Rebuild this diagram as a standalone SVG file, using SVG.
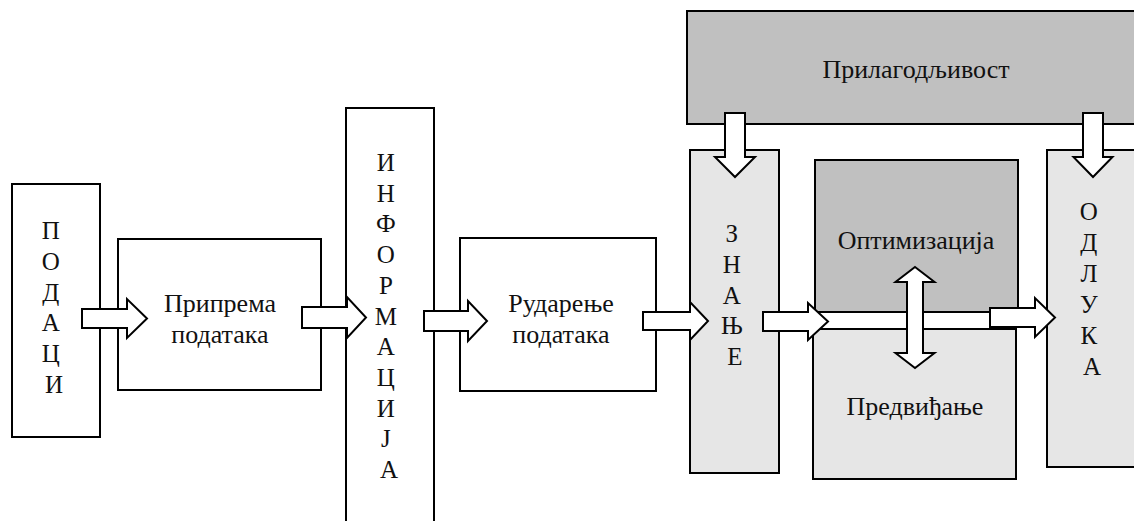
<svg xmlns="http://www.w3.org/2000/svg" width="1134" height="521" viewBox="0 0 1134 521">
  <style>
    .box { stroke: #000; stroke-width: 2; }
    .white { fill: #fff; }
    .dark { fill: #c0c0c0; }
    .light { fill: #e6e6e6; }
    .arrow { fill: #fff; stroke: #000; stroke-width: 2; stroke-linejoin: miter; }
    .lbl { font-size: 26px; fill: #111; text-anchor: middle; }
    .vert { font-size: 25px; fill: #111; text-anchor: middle; }
  </style>

  <g font-family="'Liberation Serif', 'DejaVu Serif', serif">
  <!-- nodes -->
  <g id="podaci">
    <rect class="box white" x="12" y="184" width="88" height="253"/>
    <text class="vert">
      <tspan x="54" y="239">П</tspan>
      <tspan x="54" dy="30.8">О</tspan>
      <tspan x="54" dy="30.8">Д</tspan>
      <tspan x="54" dy="30.8">А</tspan>
      <tspan x="54" dy="30.8">Ц</tspan>
      <tspan x="54" dy="30.8">И</tspan>
    </text>
  </g>

  <g id="priprema">
    <rect class="box white" x="118" y="239" width="203" height="151"/>
    <text class="lbl" x="220" y="312">Припрема</text>
    <text class="lbl" x="220" y="343">података</text>
  </g>

  <g id="informacija">
    <rect class="box white" x="346" y="108" width="88" height="430"/>
    <text class="vert">
      <tspan x="389" y="171">И</tspan>
      <tspan x="389" dy="30.7">Н</tspan>
      <tspan x="389" dy="30.7">Ф</tspan>
      <tspan x="389" dy="30.7">О</tspan>
      <tspan x="389" dy="30.7">Р</tspan>
      <tspan x="389" dy="30.7">М</tspan>
      <tspan x="389" dy="30.7">А</tspan>
      <tspan x="389" dy="30.7">Ц</tspan>
      <tspan x="389" dy="30.7">И</tspan>
      <tspan x="389" dy="30.7">Ј</tspan>
      <tspan x="389" dy="30.7">А</tspan>
    </text>
  </g>

  <g id="rudarenje">
    <rect class="box white" x="460" y="238" width="196" height="153"/>
    <text class="lbl" x="561" y="312">Рударење</text>
    <text class="lbl" x="561" y="343">података</text>
  </g>

  <g id="prilagodljivost">
    <rect class="box dark" x="687" y="11" width="460" height="113"/>
    <text class="lbl" x="916" y="78">Прилагодљивост</text>
  </g>

  <g id="znanje">
    <rect class="box light" x="690" y="150" width="89" height="323"/>
    <text class="vert">
      <tspan x="735" y="242">З</tspan>
      <tspan x="735" dy="30.8">Н</tspan>
      <tspan x="735" dy="30.8">А</tspan>
      <tspan x="735" dy="30.8">Њ</tspan>
      <tspan x="735" dy="30.8">Е</tspan>
    </text>
  </g>

  <g id="optimizacija">
    <rect class="box dark" x="815" y="160" width="203" height="152"/>
    <text class="lbl" x="916" y="249">Оптимизација</text>
  </g>

  <g id="predvidjanje">
    <rect class="box light" x="813" y="329" width="203" height="150"/>
    <text class="lbl" x="915" y="415">Предвиђање</text>
  </g>

  <g id="odluka">
    <rect class="box light" x="1047" y="150" width="100" height="317"/>
    <text class="vert">
      <tspan x="1092" y="220">О</tspan>
      <tspan x="1092" dy="31">Д</tspan>
      <tspan x="1092" dy="31">Л</tspan>
      <tspan x="1092" dy="31">У</tspan>
      <tspan x="1092" dy="31">К</tspan>
      <tspan x="1092" dy="31">А</tspan>
    </text>
  </g>
  </g>

  <!-- connectors: hollow block arrows -->
  <g id="connectors">
    <path class="arrow" d="M82,309 L127,309 L127,299 L147,318.5 L127,338 L127,328 L82,328 Z"/>
    <path class="arrow" d="M302,307 L347,307 L347,297 L366,317.5 L347,338 L347,328 L302,328 Z"/>
    <path class="arrow" d="M424,311 L468,311 L468,301 L487,321 L468,341 L468,331 L424,331 Z"/>
    <path class="arrow" d="M643,312 L690,312 L690,302 L708,321 L690,340 L690,330 L643,330 Z"/>
    <path class="arrow" d="M763,312 L808,312 L808,303 L828,321.5 L808,340 L808,331 L763,331 Z"/>
    <path class="arrow" d="M990,308 L1035,308 L1035,298 L1055,317.5 L1035,337 L1035,327 L990,327 Z"/>
    <path class="arrow" d="M725,113 L745,113 L745,157 L755,157 L735,177 L715,157 L725,157 Z"/>
    <path class="arrow" d="M1083,113 L1103,113 L1103,157 L1112.5,157 L1093,177 L1073.5,157 L1083,157 Z"/>
    <path class="arrow" d="M915,267 L934.5,282 L923,282 L923,353 L934.5,353 L915,368 L895.5,353 L907,353 L907,282 L895.5,282 Z"/>
  </g>
</svg>
